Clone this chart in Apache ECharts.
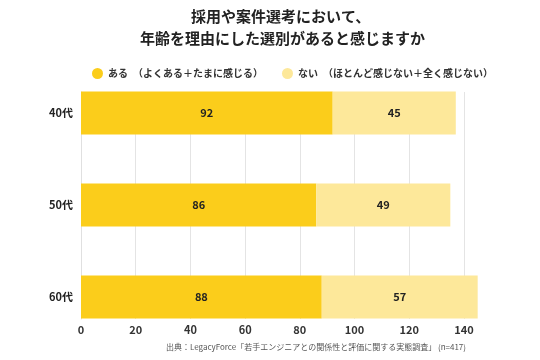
<!DOCTYPE html>
<html><head><meta charset="utf-8">
<script src="https://cdn.jsdelivr.net/npm/echarts@6/dist/echarts.min.js"></script>
<style>html,body{margin:0;padding:0;background:#fff}#c{width:540px;height:360px}</style>
</head><body><div id="c"></div>
<script>
const categories = ['40代', '50代', '60代'];
const seriesNames = ['ある　（よくある＋たまに感じる）', 'ない　（ほとんど感じない＋全く感じない）'];
const yesValues = [92, 86, 88];
const noValues = [45, 49, 57];
const xTicks = [0, 20, 40, 60, 80, 100, 120, 140];
const titleLines = ['採用や案件選考において、', '年齢を理由にした選別があると感じますか'];

const FONT = '"Noto Sans CJK JP", "Noto Sans", sans-serif';
const chart = echarts.init(document.getElementById('c'), null, {renderer: 'canvas'});
const labelStyle = {show: true, position: 'inside', color: '#222', fontWeight: 'bold', fontSize: 11, fontFamily: FONT};
const titleStyle = {fontSize: 15, fontWeight: 'bold', color: '#222', fontFamily: FONT};
chart.setOption({
  backgroundColor: '#fff',
  animation: false,
  title: [
    {text: titleLines[0], left: 186, top: 4, textStyle: titleStyle},
    {text: titleLines[1], left: 135, top: 26, textStyle: titleStyle}
  ],
  legend: {
    top: 68, left: 92, width: 440, itemGap: 19,
    padding: 0,
    icon: 'circle', itemWidth: 11, itemHeight: 11,
    textStyle: {fontSize: 10, fontWeight: 'bold', color: '#333', fontFamily: FONT},
    data: seriesNames
  },
  graphic: [{
    type: 'text', right: 74, top: 343,
    style: {text: '出典：LegacyForce「若手エンジニアとの関係性と評価に関する実態調査」 (n=417)', fill: '#555', fontSize: 8, fontFamily: FONT}
  }],
  grid: [
    {left: 81, right: 76, top: 67, height: 276},
    {left: 81, right: 76, top: 92, height: 227}
  ],
  xAxis: [
    {gridIndex: 0, type: 'value', min: 0, max: 140, interval: 20, show: false},
    {gridIndex: 1, type: 'value', min: 0, max: 140, interval: 20,
     axisLine: {show: false}, axisTick: {show: false},
     splitLine: {show: true, lineStyle: {color: '#e4e4e4', width: 1}},
     axisLabel: {color: '#333', fontWeight: 'bold', fontSize: 11, margin: 5, fontFamily: FONT,
       formatter: v => xTicks.includes(v) ? String(v) : ''}}
  ],
  yAxis: [
    {gridIndex: 0, type: 'category', data: categories, inverse: true,
     axisLine: {show: false}, axisTick: {show: false},
     axisLabel: {color: '#222', fontWeight: 'bold', fontSize: 11, margin: 8, fontFamily: FONT}},
    {gridIndex: 1, type: 'category', data: categories, inverse: true,
     axisLine: {show: true, lineStyle: {color: '#e0e0e0'}}, axisTick: {show: false},
     axisLabel: {show: false}}
  ],
  series: [
    {name: seriesNames[0], type: 'bar', stack: 'a', xAxisIndex: 0, yAxisIndex: 0,
     data: yesValues, barWidth: 43, clip: false,
     itemStyle: {color: '#FBCD1B'}, label: labelStyle},
    {name: seriesNames[1], type: 'bar', stack: 'a', xAxisIndex: 0, yAxisIndex: 0,
     data: noValues, barWidth: 43, clip: false,
     itemStyle: {color: '#FDE89A'}, label: labelStyle}
  ]
});
</script></body></html>
